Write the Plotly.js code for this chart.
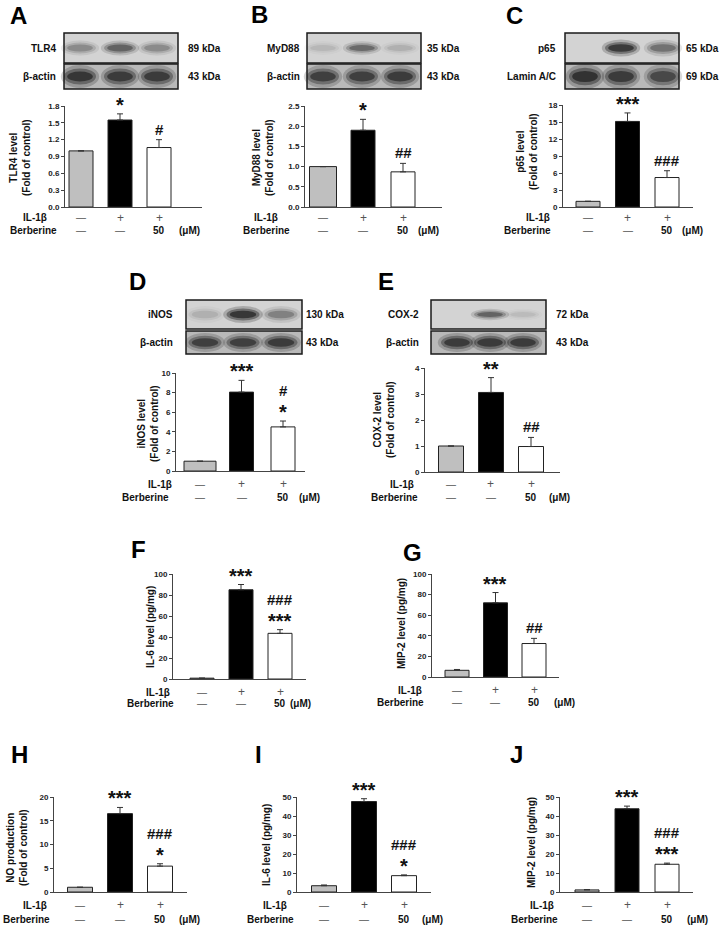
<!DOCTYPE html>
<html><head><meta charset="utf-8">
<script src="https://cdn.plot.ly/plotly-3.0.1.min.js"></script>
<style>html,body{margin:0;padding:0;background:#fff}#chart{width:721px;height:927px}</style>
</head><body><div id="chart"></div>
<script>
// ---------------- DATA ----------------
const groups = ['Control', 'IL-1β', 'IL-1β + Berberine'];
const il1bRow = ['—', '+', '+'];
const berberineRow = ['—', '—', '50'];
const unitLabel = '(μM)';

const tlr4Mean = [1.0, 1.55, 1.06];   const tlr4Err = [0, 0.11, 0.14];
const myd88Mean = [1.0, 1.9, 0.87];   const myd88Err = [0, 0.27, 0.21];
const p65Mean = [1.0, 15.1, 5.2];     const p65Err = [0, 1.5, 1.2];
const inosMean = [1.0, 8.05, 4.5];    const inosErr = [0, 1.2, 0.6];
const cox2Mean = [1.0, 3.06, 0.98];   const cox2Err = [0, 0.57, 0.35];
const il6TissueMean = [0.8, 85.0, 43.5];  const il6TissueErr = [0, 5.0, 3.5];
const mip2TissueMean = [6.5, 72.0, 32.5]; const mip2TissueErr = [0.8, 10.0, 5.0];
const noMean = [1.0, 16.5, 5.45];     const noErr = [0, 1.3, 0.5];
const il6CellMean = [3.3, 47.6, 8.6]; const il6CellErr = [0.4, 1.5, 0.4];
const mip2CellMean = [1.1, 43.8, 14.6]; const mip2CellErr = [0.2, 1.4, 0.6];

const tlr4Ticks = ['0.0','0.3','0.6','0.9','1.2','1.5','1.8'];
const myd88Ticks = ['0.0','0.5','1.0','1.5','2.0','2.5'];
const p65Ticks = ['0','3','6','9','12','15','18'];
const inosTicks = ['0','2','4','6','8','10'];
const cox2Ticks = ['0','1','2','3','4'];
const il6TissueTicks = ['0','20','40','60','80','100'];
const mip2TissueTicks = ['0','20','40','60','80','100'];
const noTicks = ['0','5','10','15','20'];
const il6CellTicks = ['0','10','20','30','40','50'];
const mip2CellTicks = ['0','10','20','30','40','50'];

const tlr4Sig = ['', '*', '#'];       const tlr4SigTop = ['', '', ''];
const myd88Sig = ['', '*', '##'];     const myd88SigTop = ['', '', ''];
const p65Sig = ['', '***', '###'];    const p65SigTop = ['', '', ''];
const inosSig = ['', '***', '*'];     const inosSigTop = ['', '', '#'];
const cox2Sig = ['', '**', '##'];     const cox2SigTop = ['', '', ''];
const il6TissueSig = ['', '***', '***']; const il6TissueSigTop = ['', '', '###'];
const mip2TissueSig = ['', '***', '##']; const mip2TissueSigTop = ['', '', ''];
const noSig = ['', '***', '*'];       const noSigTop = ['', '', '###'];
const il6CellSig = ['', '***', '*'];  const il6CellSigTop = ['', '', '###'];
const mip2CellSig = ['', '***', '***']; const mip2CellSigTop = ['', '', '###'];

// blot lane intensities (0..1)
const tlr4Band = [0.35, 0.6, 0.35];   const actinBandA = [0.95, 0.9, 0.9];
const myd88Band = [0.12, 0.55, 0.15]; const actinBandB = [0.85, 0.85, 0.9];
const p65Band = [0.0, 0.95, 0.5];     const laminBand = [1.0, 0.9, 0.75];
const inosBand = [0.15, 1.0, 0.4];    const actinBandD = [0.85, 0.85, 0.9];
const cox2Band = [0.0, 0.6, 0.1];     const actinBandE = [0.9, 0.9, 0.9];

// ---------------- LAYOUT ----------------
const W = 721, H = 927;
const PX = x => x / W;
const PY = y => 1 - y / H;
const FONT = 'Liberation Sans, Arial, Helvetica, sans-serif';
const AX = '#444';
const barColors = ['#bfbfbf', '#000000', '#ffffff'];
const bold = (size, color) => ({family: FONT, size: size, color: color || '#111', weight: 'bold'});

const panels = [
  {letter:'A', lp:[18,15], mean:tlr4Mean, err:tlr4Err, ticks:tlr4Ticks, sig:tlr4Sig, sigTop:tlr4SigTop, title:'TLR4 level<br>(Fold of control)',
   g:{axL:65, axR:202, axTop:106, axBot:207, c0:81, c2:159, barW:[24,24,24], tx:20, ty:158, ilX:35, berX:33, rows:[218,230], unitX:189}},
  {letter:'B', lp:[259,14], mean:myd88Mean, err:myd88Err, ticks:myd88Ticks, sig:myd88Sig, sigTop:myd88SigTop, title:'MyD88 level<br>(Fold of control)',
   g:{axL:305, axR:442, axTop:106, axBot:207, c0:323, c2:403, barW:[27,24,24], tx:263, ty:158, ilX:266, berX:266, rows:[218,230], unitX:429}},
  {letter:'C', lp:[514,15], mean:p65Mean, err:p65Err, ticks:p65Ticks, sig:p65Sig, sigTop:p65SigTop, title:'p65 level<br>(Fold of control)',
   g:{axL:563, axR:693, axTop:105, axBot:207, c0:588, c2:667, barW:[24,24,24], tx:527, ty:152, ilX:538, berX:527, rows:[218,230], unitX:692}},
  {letter:'D', lp:[137,281], mean:inosMean, err:inosErr, ticks:inosTicks, sig:inosSig, sigTop:inosSigTop, title:'iNOS level<br>(Fold of control)',
   g:{axL:176, axR:305, axTop:373, axBot:471, c0:200, c2:283, barW:[32,24,24], tx:148, ty:424, ilX:160, berX:145, rows:[484,497], unitX:309}},
  {letter:'E', lp:[386,281], mean:cox2Mean, err:cox2Err, ticks:cox2Ticks, sig:cox2Sig, sigTop:cox2SigTop, title:'COX-2 level<br>(Fold of control)',
   g:{axL:425, axR:560, axTop:368, axBot:472, c0:451, c2:531, barW:[25,25,25], tx:384, ty:420, ilX:402, berX:394, rows:[484,497], unitX:559}},
  {letter:'F', lp:[138,549], mean:il6TissueMean, err:il6TissueErr, ticks:il6TissueTicks, sig:il6TissueSig, sigTop:il6TissueSigTop, title:'IL-6 level (pg/mg)',
   g:{axL:173, axR:306, axTop:574, axBot:679, c0:202, c2:280, barW:[24,24,24], tx:150, ty:627, ilX:158, berX:150, rows:[692,703], unitX:300}},
  {letter:'G', lp:[412,552], mean:mip2TissueMean, err:mip2TissueErr, ticks:mip2TissueTicks, sig:mip2TissueSig, sigTop:mip2TissueSigTop, title:'MIP-2 level (pg/mg)',
   g:{axL:432, axR:559, axTop:574, axBot:677, c0:457, c2:534, barW:[24,24,24], tx:401, ty:624, ilX:410, berX:400, rows:[690,702], unitX:564}},
  {letter:'H', lp:[19,754], mean:noMean, err:noErr, ticks:noTicks, sig:noSig, sigTop:noSigTop, title:'NO production<br>(Fold of control)',
   g:{axL:54, axR:187, axTop:797, axBot:892, c0:80, c2:160, barW:[25,25,25], tx:17, ty:848, ilX:35, berX:26, rows:[905,919], unitX:189}},
  {letter:'I', lp:[258,754], mean:il6CellMean, err:il6CellErr, ticks:il6CellTicks, sig:il6CellSig, sigTop:il6CellSigTop, title:'IL-6 level (pg/mg)',
   g:{axL:297, axR:431, axTop:797, axBot:892, c0:324, c2:404, barW:[25,25,25], tx:266, ty:845, ilX:275, berX:270, rows:[905,919], unitX:433}},
  {letter:'J', lp:[516,754], mean:mip2CellMean, err:mip2CellErr, ticks:mip2CellTicks, sig:mip2CellSig, sigTop:mip2CellSigTop, title:'MIP-2 level (pg/mg)',
   g:{axL:560, axR:693, axTop:797, axBot:892, c0:587, c2:667, barW:[24,24,24], tx:531, ty:843, ilX:542, berX:534, rows:[905,919], unitX:697}}
];

const blots = [
  {x0:64, x1:178, top:[33,63], bot:[64,89], lanes:[80,120,157], topInt:tlr4Band, botInt:actinBandA, labels:['TLR4','β-actin'], labR:58, kdaX:186, kda:['89 kDa','43 kDa'], bw:32, bh:[8,12]},
  {x0:307, x1:421, top:[33,63], bot:[64,89], lanes:[323,362,400], topInt:myd88Band, botInt:actinBandB, labels:['MyD88','β-actin'], labR:302, kdaX:425, kda:['35 kDa','43 kDa'], bw:32, bh:[7,12]},
  {x0:565, x1:679, top:[33,63], bot:[64,89], lanes:[585,621,663], topInt:p65Band, botInt:laminBand, labels:['p65','Lamin A/C'], labR:558, kdaX:684, kda:['65 kDa','69 kDa'], bw:32, bh:[9,13]},
  {x0:186, x1:302, top:[300,329], bot:[331,354], lanes:[205,243,281], topInt:inosBand, botInt:actinBandD, labels:['iNOS','β-actin'], labR:175, kdaX:304, kda:['130 kDa','43 kDa'], bw:33, bh:[9,10]},
  {x0:431, x1:546, top:[300,329], bot:[331,354], lanes:[457,490,523], topInt:cox2Band, botInt:actinBandE, labels:['COX-2','β-actin'], labR:421, kdaX:554, kda:['72 kDa','43 kDa'], bw:32, bh:[6,10]}
];

const traces = [];
const annotations = [];
const shapes = [];
const layout = {
  width: W, height: H, margin: {l:0, r:0, t:0, b:0},
  paper_bgcolor: '#ffffff', plot_bgcolor: 'rgba(0,0,0,0)',
  showlegend: false, font: {family: FONT}
};

panels.forEach((p, i) => {
  const n = i + 1;
  const sfx = n === 1 ? '' : String(n);
  const xr = 'x' + sfx, yr = 'y' + sfx;
  const g = p.g;
  const s = (g.c2 - g.c0) / 2;
  const tickVals = p.ticks.map(Number);
  const yMax = tickVals[tickVals.length - 1];
  layout['xaxis' + sfx] = {
    domain: [PX(g.axL), PX(g.axR)], range: [-(g.c0 - g.axL) / s, (g.axR - g.c0) / s],
    type: 'category', showline: true, linecolor: AX, linewidth: 1, ticks: '', showticklabels: false,
    showgrid: false, zeroline: false, fixedrange: true, anchor: yr
  };
  layout['yaxis' + sfx] = {
    domain: [PY(g.axBot), PY(g.axTop)], range: [0, yMax], tickvals: tickVals, ticktext: p.ticks,
    ticks: 'outside', ticklen: 3, tickwidth: 1, tickcolor: AX, showline: true, linecolor: AX, linewidth: 1,
    showgrid: false, zeroline: false, tickfont: bold(8, '#222'), fixedrange: true, anchor: xr
  };
  traces.push({
    type: 'bar', x: groups, y: p.mean, xaxis: xr, yaxis: yr,
    width: g.barW.map(w => w / s),
    marker: {color: barColors, line: {color: '#222', width: 1}},
    error_y: {type: 'data', symmetric: false, array: p.err, arrayminus: [0, 0, 0], color: '#333', thickness: 1, width: 3},
    hoverinfo: 'skip', showlegend: false
  });
  // panel letter
  annotations.push({xref:'paper', yref:'paper', x:PX(p.lp[0]), y:PY(p.lp[1]), text:p.letter, showarrow:false,
    xanchor:'center', yanchor:'middle', font: bold(24, '#000')});
  // y title
  annotations.push({xref:'paper', yref:'paper', x:PX(g.tx), y:PY(g.ty), text:p.title, showarrow:false, textangle:-90,
    xanchor:'center', yanchor:'middle', font: bold(10, '#111')});
  // row labels
  annotations.push({xref:'paper', yref:'paper', x:PX(g.ilX), y:PY(g.rows[0]), text:'IL-1β', showarrow:false,
    xanchor:'center', yanchor:'middle', font: bold(10, '#111')});
  annotations.push({xref:'paper', yref:'paper', x:PX(g.berX), y:PY(g.rows[1]), text:'Berberine', showarrow:false,
    xanchor:'center', yanchor:'middle', font: bold(10, '#111')});
  annotations.push({xref:'paper', yref:'paper', x:PX(g.unitX), y:PY(g.rows[1]), text:unitLabel, showarrow:false,
    xanchor:'center', yanchor:'middle', font: bold(10, '#111')});
  const signFont = t => (t === '50') ? bold(10, '#111') : {family: FONT, size: t === '+' ? 12 : 10, color: '#555'};
  groups.forEach((gname, k) => {
    annotations.push({xref:xr, yref:'paper', x:gname, y:PY(g.rows[0]), text:il1bRow[k], showarrow:false,
      xanchor:'center', yanchor:'middle', font: signFont(il1bRow[k])});
    annotations.push({xref:xr, yref:'paper', x:gname, y:PY(g.rows[1]), text:berberineRow[k], showarrow:false,
      xanchor:'center', yanchor:'middle', font: signFont(berberineRow[k])});
    const top = p.mean[k] + p.err[k];
    const near = p.sig[k];
    if (near) {
      const star = near.indexOf('*') >= 0;
      annotations.push({xref:xr, yref:yr, x:gname, y:top, text:near, showarrow:false, xanchor:'center', yanchor:'bottom',
        yshift: star ? -4 : 0, font: bold(star ? 20 : 15, '#111')});
    }
    const far = p.sigTop[k];
    if (far) {
      annotations.push({xref:xr, yref:yr, x:gname, y:top, text:far, showarrow:false, xanchor:'center', yanchor:'bottom',
        yshift: 20, font: bold(15, '#111')});
    }
  });
});

blots.forEach(b => {
  const rows = [b.top, b.bot];
  const bgs = ['#d3d3d3', '#b9b9b9'];
  const ints = [b.topInt, b.botInt];
  rows.forEach((r, k) => {
    shapes.push({type:'rect', xref:'paper', yref:'paper', x0:PX(b.x0), x1:PX(b.x1), y0:PY(r[1]), y1:PY(r[0]),
      fillcolor:bgs[k], line:{width:0}, layer:'above'});
    const cy = (r[0] + r[1]) / 2;
    b.lanes.forEach((cx, j) => {
      const a = ints[k][j];
      if (a <= 0.01) return;
      [[1.2, 1.9, 0.22], [1.0, 1.35, 0.4], [0.8, 0.85, 0.65]].forEach(([fw, fh, fa]) => {
        const w = b.bw * fw / 2, h = b.bh[k] * fh / 2;
        shapes.push({type:'circle', xref:'paper', yref:'paper', x0:PX(cx - w), x1:PX(cx + w), y0:PY(cy + h), y1:PY(cy - h),
          fillcolor:'rgba(25,25,25,' + (a * fa).toFixed(3) + ')', line:{width:0}, layer:'above'});
      });
    });
    shapes.push({type:'rect', xref:'paper', yref:'paper', x0:PX(b.x0), x1:PX(b.x1), y0:PY(r[1]), y1:PY(r[0]),
      fillcolor:'rgba(0,0,0,0)', line:{color:'#1a1a1a', width:1.5}, layer:'above'});
    annotations.push({xref:'paper', yref:'paper', x:PX(b.labR), y:PY(cy), text:b.labels[k], showarrow:false,
      xanchor:'right', yanchor:'middle', font: bold(10, '#111')});
    annotations.push({xref:'paper', yref:'paper', x:PX(b.kdaX), y:PY(cy), text:b.kda[k], showarrow:false,
      xanchor:'left', yanchor:'middle', font: bold(10, '#111')});
  });
});

layout.annotations = annotations;
layout.shapes = shapes;
Plotly.newPlot('chart', traces, layout, {staticPlot: true, displayModeBar: false});
</script></body></html>
